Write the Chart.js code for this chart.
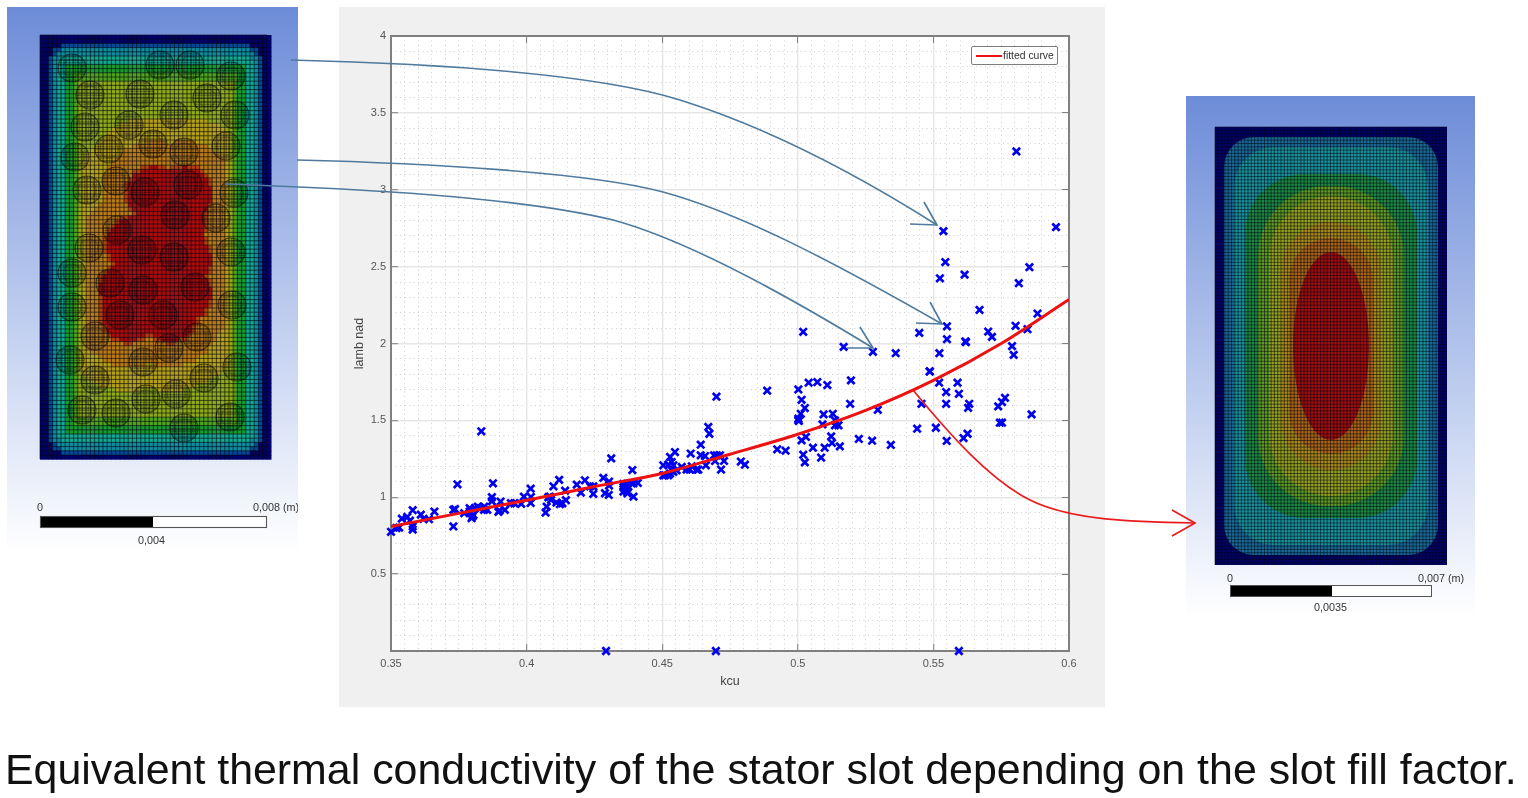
<!DOCTYPE html>
<html>
<head>
<meta charset="utf-8">
<title>Equivalent thermal conductivity</title>
<script src="https://cdn.jsdelivr.net/npm/chart.js@4"></script>
<style>
html, body { margin: 0; padding: 0; background: #fff; width: 1528px; height: 798px; overflow: hidden; }
body { position: relative; font-family: "Liberation Sans", Arial, sans-serif; }
canvas, svg, .txt, #legend { position: absolute; }
.soft { filter: blur(0.55px); }
#chartWrap { position: absolute; left: 339px; top: 7px; width: 766px; height: 700px; }
#legend { left: 971px; top: 46px; width: 85px; height: 17px; background: #fff; border: 1.5px solid #7d7d7d; border-radius: 2px; font-size: 10.4px; color: #333; line-height: 17px; }
#legend i { position: absolute; left: 4px; top: 7.5px; width: 26px; height: 2.4px; background: #ee1111; }
#legend span { position: absolute; left: 31px; top: 0; white-space: nowrap; }
.txt { color: #333; font-size: 10.8px; white-space: nowrap; }
#caption { position: absolute; left: 5px; top: 742px; font-size: 42.9px; line-height: 54px; color: #111; white-space: nowrap; }
</style>
</head>
<body>
<canvas id="leftPanel" class="soft" width="291" height="546" style="left:7px;top:7px"></canvas>
<canvas id="rightPanel" class="soft" width="289" height="521" style="left:1186px;top:96px"></canvas>
<div id="chartWrap" class="soft"><canvas id="slotChart" width="766" height="700" style="left:0;top:0"></canvas></div>
<div id="legend" class="soft"><i></i><span id="legendText"></span></div>

<div class="txt soft" style="left:37px;top:501px">0</div>
<div class="txt soft" style="left:253px;top:501px;width:45px;overflow:hidden">0,008 (m)</div>
<div class="txt soft" style="left:138px;top:534px">0,004</div>
<div class="txt soft" style="left:1227px;top:572px">0</div>
<div class="txt soft" style="left:1418px;top:572px">0,007 (m)</div>
<div class="txt soft" style="left:1314px;top:601px">0,0035</div>

<svg width="1528" height="798" style="left:0;top:0" class="soft" fill="none">
  <g stroke="#4f7a9e" stroke-width="1.6">
    <path d="M291 60 C450 64 600 75 680 100 C760 125 850 170 937 225"/>
    <path d="M924 202 L937 225 L910 224"/>
    <path d="M297 160 C420 163 590 172 663 192 C740 213 830 260 942 324"/>
    <path d="M930 302 L942 324 L916 323"/>
    <path d="M225 184 C400 190 530 200 613 220 C680 238 770 285 873 348"/>
    <path d="M860 327 L873 348 L847 348"/>
  </g>
  <g stroke="#e81c1c" stroke-width="1.7">
    <path d="M913 390 C950 435 990 480 1030 500 C1070 520 1130 522 1195 523"/>
    <path d="M1172 510 L1195 523 L1172 536"/>
  </g>
</svg>

<div id="caption">Equivalent thermal conductivity of the stator slot depending on the slot fill factor.</div>

<script>
// measured samples: slot fill factor and equivalent conductivity
const kcu = [
  .350,.352,.353,.354,.356,.357,.358,.358,.358,.361,.362,.364,.366,.373,.373,.3736,.3745,.377,.379,.3795,
  .380,.3797,.3804,.379,.381,.382,.3833,.3843,.3855,.3844,.3872,.3872,.3876,.3896,.3904,.390,.392,.3942,.3955,.398,
  .399,.4015,.4016,.4015,.407,.4074,.408,.409,.4086,.4099,.411,.412,.4123,.4132,.4142,.4145,.4185,.420,.4215,.4234,
  .4246,.4246,.4283,.4304,.4289,.4303,.4304,.4312,.4293,.4357,.437,.4363,.4357,.437,.4375,.4357,.4372,.4387,.4394,.439,
  .4394,.441,.4504,.4504,.4510,.4522,.4522,.4529,.4535,.4547,.4541,.4535,.4529,.4541,.4553,.4572,.459,.4602,.4609,.4605,
  .4627,.4633,.4642,.4642,.4658,.4661,.467,.4674,.4691,.4701,.4713,.4695,.4717,.4728,.479,.4805,.470,.4698,
  .4887,.4924,.4955,.5002,.5014,.5026,.5011,.5002,.5004,.5002,.5014,.503,.502,.5026,.504,.5072,.5109,.5056,
  .5095,.5091,.5129,.5137,.5137,.515,.5086,.5099,.5123,.5126,.5155,.5196,.5193,.5225,.5274,.5295,.5343,
  .5440,.5456,.5509,.5487,.5521,.5547,.5547,.5549,.5589,.5594,.5611,.5626,.5628,.5632,.5739,.5745,
  .5753,.5764,.5753,.5862,.5594,
  .5806,.5952,.5537,.5544,.5524,.5615,.5854,.5815,.5670,.5884,.5550,.5448,.5550,.5618,.5620,.5702,.5716,.5803,.5847,.579,
  .5796,.502,.5169,.5277,.5361,.5522,.5486
];
const lambNad = [
  .775,.80,.803,.861,.872,.848,.81,.79,.916,.887,.859,.857,.907,.81,.918,.922,1.084,.896,.929,.896,
  .874,.864,.885,.907,.929,.939,1.429,.918,.918,.939,1.0,.974,1.091,.905,.972,.913,.918,.961,.961,.957,
  1.004,1.056,1.002,.963,.9,.939,1.0,.983,1.004,1.071,.965,1.113,.955,.961,1.043,.981,1.082,1.03,1.11,1.07,
  1.07,1.022,1.126,1.102,1.026,1.015,1.076,1.253,0,1.087,1.087,1.058,1.037,1.037,1.069,1.065,1.026,1.091,1.091,1.177,
  1.004,1.093,1.208,1.143,1.143,1.143,1.212,1.262,1.229,1.294,1.208,1.175,1.154,1.165,1.175,1.197,1.18,1.18,1.201,1.284,
  1.18,1.18,1.342,1.273,1.268,1.208,1.457,1.413,1.273,1.273,1.273,1.236,1.18,1.236,1.232,1.212,1.654,0,
  1.693,1.312,1.303,1.701,1.634,1.58,1.543,1.511,1.496,1.50,1.37,1.392,1.277,1.227,1.745,1.749,1.73,1.322,
  1.539,1.474,1.543,1.50,1.468,1.468,1.258,1.322,1.396,1.353,1.331,1.76,1.608,1.379,1.368,1.569,1.34,
  1.446,1.608,1.452,1.818,1.745,1.684,1.608,1.366,1.745,1.673,1.385,1.413,1.582,1.608,1.591,1.485,
  1.619,1.647,1.485,1.539,0,
  3.249,2.757,2.731,2.530,2.424,2.448,2.496,2.392,2.218,2.195,2.112,2.069,2.028,2.013,2.009,2.078,2.043,2.115,2.093,1.983,
  1.926,2.076,1.978,1.946,1.937,1.937,1.818
];

// fitted curve
const curveKcu = [.35,.375,.4,.425,.45,.475,.5,.525,.55,.575,.6];
const curveLamb = [.81,.895,.98,1.07,1.155,1.28,1.41,1.565,1.76,2.0,2.286];
const curveLabel = 'fitted curve';

const xTicks = ['0.35','0.4','0.45','0.5','0.55','0.6'];
const yTicks = ['','0.5','1','1.5','2','2.5','3','3.5','4'];

document.getElementById('legendText').textContent = curveLabel;

// white plot background, canvas itself stays panel grey
const plotBackground = {
  id: 'plotBackground',
  beforeDraw(chart) {
    const { ctx, chartArea: a, width, height } = chart;
    ctx.save();
    ctx.fillStyle = '#f0f0f0';
    ctx.fillRect(0, 0, width, height);
    ctx.fillStyle = '#fff';
    ctx.fillRect(a.left, a.top, a.width, a.height);
    ctx.restore();
  }
};

const axisFont = { family: '"Liberation Sans", Arial, sans-serif', size: 11 };
const titleFont = { family: '"Liberation Sans", Arial, sans-serif', size: 12.5 };
const frame = { display: true, color: '#808080', width: 2 };

function extraAxis(axis, position, min, max, step, dashed) {
  return {
    type: 'linear', axis, position, min, max,
    afterFit(s) { if (axis === 'x') s.height = 0; else s.width = 0; },
    ticks: { display: false, stepSize: step, autoSkip: false },
    border: dashed ? { display: false, dash: [1, 3.5] } : frame,
    grid: dashed
      ? { color: '#cfcfcf', lineWidth: 1, drawTicks: false }
      : { drawOnChartArea: false, drawTicks: true, tickLength: -7, tickColor: '#808080', tickWidth: 1 }
  };
}

new Chart(document.getElementById('slotChart'), {
  type: 'scatter',
  data: {
    datasets: [
      {
        label: 'samples',
        data: kcu.map((k, i) => ({ x: k, y: lambNad[i] })),
        pointStyle: 'crossRot',
        pointRadius: 5.2,
        pointBorderWidth: 2.7,
        pointBorderColor: '#0000ee',
        clip: false,
        order: 2
      },
      {
        type: 'line',
        label: curveLabel,
        data: curveKcu.map((k, i) => ({ x: k, y: curveLamb[i] })),
        borderColor: '#ee1111',
        borderWidth: 3,
        pointRadius: 0,
        cubicInterpolationMode: 'monotone',
        order: 1
      }
    ]
  },
  options: {
    responsive: false,
    animation: false,
    layout: { padding: { left: 0, right: 36, top: 29, bottom: 0 } },
    plugins: { legend: { display: false }, tooltip: { enabled: false } },
    scales: {
      xMinor: extraAxis('x', 'top', 0.35, 0.6, 0.005, true),
      yMinor: extraAxis('y', 'right', 0, 4, 0.1, true),
      x: {
        type: 'linear', position: 'bottom', min: 0.35, max: 0.6,
        afterFit(s) { s.height = 56; },
        title: { display: true, text: 'kcu', color: '#444', font: titleFont, padding: { top: 0, bottom: 18 } },
        ticks: {
          stepSize: 0.05, autoSkip: false, padding: 13, color: '#555', font: axisFont, maxRotation: 0,
          callback: (v, i) => xTicks[i]
        },
        border: frame,
        grid: { color: '#e6e6e6', lineWidth: 1.4, tickLength: -7, tickColor: '#808080', tickWidth: 1 }
      },
      y: {
        type: 'linear', position: 'left', min: 0, max: 4,
        afterFit(s) { s.width = 52; },
        title: { display: true, text: 'lamb nad', color: '#444', font: titleFont, padding: { top: 13, bottom: 0 } },
        ticks: {
          stepSize: 0.5, autoSkip: false, padding: 12, color: '#555', font: axisFont,
          callback: (v, i) => yTicks[i]
        },
        border: frame,
        grid: { color: '#e6e6e6', lineWidth: 1.4, tickLength: -7, tickColor: '#808080', tickWidth: 1 }
      },
      xTop: extraAxis('x', 'top', 0.35, 0.6, 0.05, false),
      yRight: extraAxis('y', 'right', 0, 4, 0.5, false)
    }
  },
  plugins: [plotBackground]
});

// ---- FE mesh pictures either side of the chart ----
const bands = ['#00006a','#004a98','#0c8c9c','#12a890','#189a30','#4ea41a','#8eaa18','#b4a016','#b87a14','#b4400e','#a80c0c'];

function panelBack(ctx, w, h) {
  const g = ctx.createLinearGradient(0, 0, 0, h);
  g.addColorStop(0, '#6d8cd8');
  g.addColorStop(0.5, '#b4c5ec');
  g.addColorStop(1, '#ffffff');
  ctx.fillStyle = g;
  ctx.fillRect(0, 0, w, h);
}

function meshLines(ctx, x0, y0, x1, y1, step, alpha) {
  ctx.strokeStyle = 'rgba(5,5,20,' + alpha + ')';
  ctx.lineWidth = 1;
  ctx.beginPath();
  for (let x = x0; x <= x1; x += step) { ctx.moveTo(x, y0); ctx.lineTo(x, y1); }
  for (let y = y0; y <= y1; y += step) { ctx.moveTo(x0, y); ctx.lineTo(x1, y); }
  ctx.stroke();
}

function scaleBar(ctx, x, y, w, h, mid) {
  ctx.fillStyle = '#fff';
  ctx.fillRect(x, y, w, h);
  ctx.fillStyle = '#000';
  ctx.fillRect(x, y, mid, h);
  ctx.strokeStyle = '#555';
  ctx.strokeRect(x + 0.5, y + 0.5, w, h);
}

function drawLeft() {
  const ctx = document.getElementById('leftPanel').getContext('2d');
  panelBack(ctx, 291, 546);
  const X0 = 33, Y0 = 28, W = 227, H = 424;
  // strand centres, panel px
  const hot = [[138,185],[181,178],[168,208],[110,223],[135,243],[167,250],[103,276],[136,283],[188,280],[113,308],[156,308]];
  const strands = [[65,61],[83,88],[78,120],[68,150],[80,183],[109,174],[102,142],[122,118],[133,87],[153,58],[183,58],
    [224,69],[200,91],[228,108],[167,108],[146,137],[177,145],[219,139],[227,186],[209,211],[224,245],[82,241],[65,266],
    [65,300],[225,298],[88,329],[190,330],[162,341],[136,355],[63,353],[88,373],[197,371],[230,360],[169,387],[139,392],
    [109,406],[75,403],[177,421],[223,410]];
  // outline of the red zone as a union of circles, radius 27
  const redZone = [[145,185],[175,185],[168,215],[125,235],[150,240],[175,250],[118,280],[150,280],[175,285],[120,305],[160,305]];
  const tw = [6,10,16,23,30,36,41,45,48,50];
  const step = 4.2;
  for (let y = Y0; y < Y0 + H; y += step) {
    for (let x = X0; x < X0 + W; x += step) {
      const cx = x - (X0 + W / 2), cy = (y - (Y0 + H / 2)) * 0.85;
      const R = 24;
      const qx = Math.abs(cx) - (W / 2 - R), qy = Math.abs(cy) - (H * 0.85 / 2 - R);
      const d = R - Math.hypot(Math.max(qx, 0), Math.max(qy, 0)) - Math.min(Math.max(qx, qy), 0);
      let wall = 0;
      tw.forEach(t => { if (d > t) wall++; });
      let dRed = 1e9;
      redZone.forEach(c => { dRed = Math.min(dRed, Math.hypot(x - c[0], y - c[1]) - 27); });
      const inner = dRed <= 0 ? 10 : dRed < 3 ? 9 : dRed < 26 ? 8 : dRed < 50 ? 7 : 6;
      ctx.fillStyle = bands[Math.min(wall, inner)];
      ctx.fillRect(x, y, step + 0.5, step + 0.5);
    }
  }
  meshLines(ctx, X0, Y0, X0 + W, Y0 + H, step, 0.62);
  strands.concat(hot).forEach(c => {
    ctx.save();
    ctx.beginPath();
    ctx.arc(c[0], c[1], 14, 0, Math.PI * 2);
    ctx.clip();
    meshLines(ctx, c[0] - 14, c[1] - 14, c[0] + 14, c[1] + 14, 2.9, 0.3);
    ctx.restore();
    ctx.strokeStyle = 'rgba(10,10,10,.55)';
    ctx.lineWidth = 1.1;
    ctx.beginPath();
    ctx.arc(c[0], c[1], 14, 0, Math.PI * 2);
    ctx.stroke();
    ctx.strokeStyle = 'rgba(10,10,10,.25)';
    ctx.beginPath();
    ctx.arc(c[0], c[1], 9, 0, Math.PI * 2);
    ctx.stroke();
  });
  scaleBar(ctx, 33, 509, 226, 11, 113);
}

function drawRight() {
  const ctx = document.getElementById('rightPanel').getContext('2d');
  panelBack(ctx, 289, 521);
  const X0 = 29, Y0 = 31, W = 232, H = 438;
  const cx = 145, cy = 250;
  ctx.fillStyle = bands[0];
  ctx.fillRect(X0, Y0, W, H);
  // nested contour bands, [half width, half height, radius, colour]
  const layers = [
    [107,209,30,'#176a96'],
    [97,199,40,'#18939c'],
    [86,172,60,'#1b8a42'],
    [73,160,70,'#5c9a22'],
    [62,150,62,'#929f1c'],
    [50,124,50,'#a98a18'],
    [42,108,42,'#aa6414']
  ];
  layers.forEach(l => {
    ctx.fillStyle = l[3];
    ctx.beginPath();
    ctx.roundRect(cx - l[0], cy - l[1], l[0] * 2, l[1] * 2, l[2]);
    ctx.fill();
  });
  ctx.fillStyle = '#a00e0e';
  ctx.beginPath();
  ctx.ellipse(cx, cy, 38, 94, 0, 0, Math.PI * 2);
  ctx.fill();
  meshLines(ctx, X0, Y0, X0 + W, Y0 + H, 3.3, 0.55);
  scaleBar(ctx, 44, 489, 201, 11, 102);
}

drawLeft();
drawRight();
</script>
</body>
</html>
